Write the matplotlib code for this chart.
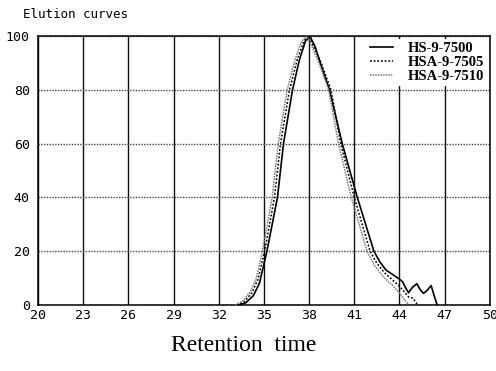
import matplotlib
matplotlib.use("Agg")
import matplotlib.pyplot as plt

x_ticks = [20, 23, 26, 29, 32, 35, 38, 41, 44, 47, 50]
y_ticks = [0, 20, 40, 60, 80, 100]

hs7500_x = [33.3, 33.8, 34.3, 34.7, 35.2, 35.9, 36.3, 36.9, 37.35, 37.75, 38.05,
            38.4, 38.8, 39.35, 40.2, 41.2, 42.3, 42.7, 43.1, 43.5, 43.9, 44.2,
            44.4, 44.6, 44.85, 45.15, 45.4, 45.6, 45.85, 46.1, 46.3, 46.5]
hs7500_y = [0, 0.8, 3.5, 8, 20, 40, 60, 80, 91, 98, 100,
            96, 89, 80, 60, 40, 20, 16, 13, 11.5, 10, 8.7,
            6.5, 4.5, 6.5, 7.9, 5.5, 4.3, 5.5, 7.2, 3.5, 0]

hsa7505_x = [33.2, 33.7, 34.2, 34.6, 35.05, 35.7, 36.1, 36.7, 37.2, 37.65, 37.95,
             38.3, 38.8, 39.45, 40.1, 41.0, 42.05, 42.5, 43.0, 43.4, 43.9, 44.3,
             44.6, 44.9, 45.2]
hsa7505_y = [0, 1.2, 4.5, 9.5, 20, 40, 60, 80, 91, 98, 100,
             96, 90, 80, 60, 40, 20, 15.5, 12, 10, 7.5, 5,
             3, 2.5, 0]

hsa7510_x = [33.1, 33.6, 34.1, 34.5, 34.9, 35.55, 35.95, 36.55, 37.05, 37.5, 37.85,
             38.2, 38.65, 39.3, 39.95, 40.8, 41.85, 42.3, 42.7, 43.0, 43.5, 43.9,
             44.2, 44.6]
hsa7510_y = [0, 1.5, 5, 10, 20, 40, 60, 80, 91, 98, 100,
             96, 90, 80, 60, 40, 20, 15, 12, 10, 7.5, 5,
             3, 0]

fig = plt.figure(figsize=(4.96, 3.71), dpi=100)
ax = fig.add_axes([0.0766, 0.178, 0.911, 0.725])

ax.plot(hs7500_x, hs7500_y, color="black", lw=1.2, ls="-", label="HS-9-7500", zorder=3)
ax.plot(hsa7505_x, hsa7505_y, color="black", lw=1.1, ls=(0, (1.2, 1.2)), label="HSA-9-7505", zorder=3)
ax.plot(hsa7510_x, hsa7510_y, color="#777777", lw=1.1, ls=(0, (1, 0.7)), label="HSA-9-7510", zorder=3)

ax.set_xlim(20, 50)
ax.set_ylim(0, 100)
ax.set_xticks(x_ticks)
ax.set_yticks(y_ticks)
ax.set_xticklabels([str(t) for t in x_ticks], family="DejaVu Sans Mono", fontsize=9.5)
ax.set_yticklabels([str(t) for t in y_ticks], family="DejaVu Sans Mono", fontsize=9.5)
ax.tick_params(axis="x", length=0, pad=3)
ax.tick_params(axis="y", length=0, pad=6)

ax.xaxis.grid(True, color="#111111", lw=1.0, ls="-")
ax.yaxis.grid(True, color="#444444", lw=1.0, ls=(0, (1, 1)))
ax.set_axisbelow(True)
for s in ax.spines.values():
    s.set_color("black")
    s.set_linewidth(1.1)

leg = ax.legend(loc="upper right", frameon=True, framealpha=1, edgecolor="none",
                prop={"family": "Liberation Serif", "weight": "bold", "size": 10.5},
                handlelength=1.6, borderpad=0.2, labelspacing=0.05, handletextpad=1.0,
                borderaxespad=0.2, fancybox=False)

fig.text(0.046, 0.96, "Elution curves", family="DejaVu Sans Mono", fontsize=9, ha="left", va="center")
fig.text(0.492, 0.07, "Retention  time", family="Liberation Serif", fontsize=17, ha="center", va="center")

fig.savefig("out.png", dpi=100)
